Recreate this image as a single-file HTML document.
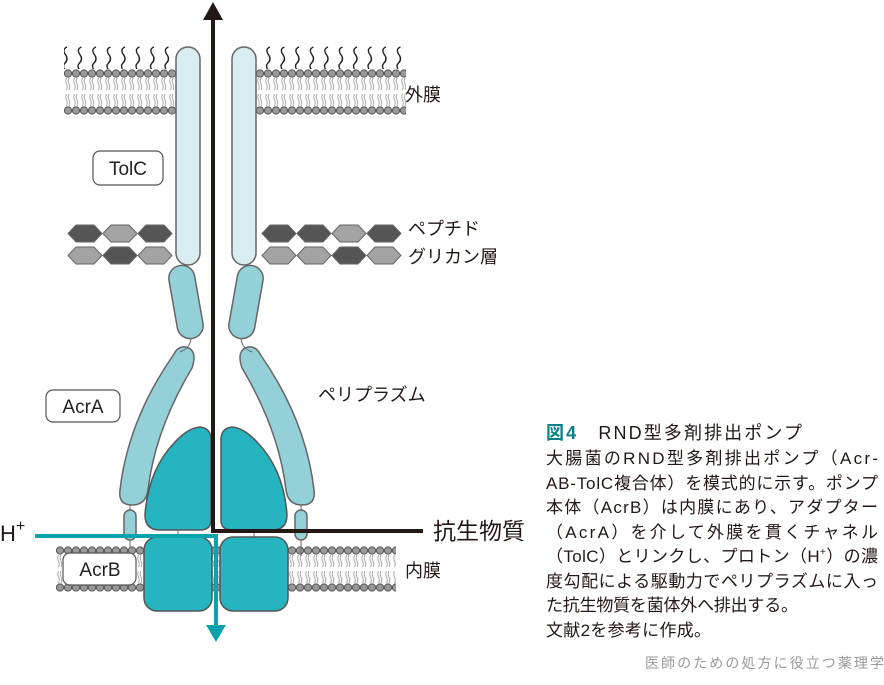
<!DOCTYPE html>
<html><head><meta charset="utf-8"><style>
html,body{margin:0;padding:0;background:#fff;width:884px;height:685px;overflow:hidden}
svg{display:block}
.j{font-family:"Liberation Sans","Noto Sans CJK JP",sans-serif}
</style></head><body>
<svg width="884" height="685" viewBox="0 0 884 685" xmlns="http://www.w3.org/2000/svg">
<defs>
<pattern id="mem1" x="0" y="69" width="8" height="46" patternUnits="userSpaceOnUse">
 <path d="M2.5 9 q-1.5 3 0 6 q1.5 3 0 6 M5 9 q-1.5 3 0 6 q1.5 3 0 6 M2.5 25 q-1.5 3 0 6 q1.5 3 0 6 M5 25 q-1.5 3 0 6 q1.5 3 0 6" fill="none" stroke="#aaa" stroke-width="1"/>
 <circle cx="4" cy="4.5" r="3.6" fill="#999" stroke="#555" stroke-width="1"/>
 <circle cx="4" cy="41.5" r="3.6" fill="#999" stroke="#555" stroke-width="1"/>
</pattern>
<pattern id="mem2" x="0" y="546" width="8" height="46" patternUnits="userSpaceOnUse">
 <path d="M2.5 9 q-1.5 3 0 6 q1.5 3 0 6 M5 9 q-1.5 3 0 6 q1.5 3 0 6 M2.5 25 q-1.5 3 0 6 q1.5 3 0 6 M5 25 q-1.5 3 0 6 q1.5 3 0 6" fill="none" stroke="#aaa" stroke-width="1"/>
 <circle cx="4" cy="4.5" r="3.6" fill="#999" stroke="#555" stroke-width="1"/>
 <circle cx="4" cy="41.5" r="3.6" fill="#999" stroke="#555" stroke-width="1"/>
</pattern>
<pattern id="lps" x="0" y="45" width="14.5" height="26" patternUnits="userSpaceOnUse">
 <path d="M9 2 q-5 2 -2 7 q4 5 0 9 q-3 3 0 7" fill="none" stroke="#222" stroke-width="1.4"/>
</pattern>
</defs>
<!-- outer membrane -->
<rect x="64" y="45" width="114" height="24" fill="url(#lps)"/>
<rect x="256" y="45" width="150" height="24" fill="url(#lps)"/>
<rect x="64" y="69" width="114" height="46" fill="url(#mem1)"/>
<rect x="256" y="69" width="150" height="46" fill="url(#mem1)"/>
<!-- inner membrane -->
<rect x="56" y="546" width="340" height="46" fill="url(#mem2)"/>
<!-- peptidoglycan -->
<g stroke="#666" stroke-width="1">
<g transform="translate(68,225)">
<polygon points="0,8.5 8,0 26,0 34,8.5 26,17 8,17" fill="#555"/>
<polygon transform="translate(35,0)" points="0,8.5 8,0 26,0 34,8.5 26,17 8,17" fill="#a3a3a3"/>
<polygon transform="translate(70,0)" points="0,8.5 8,0 26,0 34,8.5 26,17 8,17" fill="#555"/>
<polygon transform="translate(0,22)" points="0,8.5 8,0 26,0 34,8.5 26,17 8,17" fill="#a3a3a3"/>
<polygon transform="translate(35,22)" points="0,8.5 8,0 26,0 34,8.5 26,17 8,17" fill="#555"/>
<polygon transform="translate(70,22)" points="0,8.5 8,0 26,0 34,8.5 26,17 8,17" fill="#a3a3a3"/>
</g>
<g transform="translate(262,225)">
<polygon points="0,8.5 8,0 26,0 34,8.5 26,17 8,17" fill="#555"/>
<polygon transform="translate(35,0)" points="0,8.5 8,0 26,0 34,8.5 26,17 8,17" fill="#555"/>
<polygon transform="translate(70,0)" points="0,8.5 8,0 26,0 34,8.5 26,17 8,17" fill="#a3a3a3"/>
<polygon transform="translate(105,0)" points="0,8.5 8,0 26,0 34,8.5 26,17 8,17" fill="#555"/>
<polygon transform="translate(0,22)" points="0,8.5 8,0 26,0 34,8.5 26,17 8,17" fill="#a3a3a3"/>
<polygon transform="translate(35,22)" points="0,8.5 8,0 26,0 34,8.5 26,17 8,17" fill="#a3a3a3"/>
<polygon transform="translate(70,22)" points="0,8.5 8,0 26,0 34,8.5 26,17 8,17" fill="#555"/>
<polygon transform="translate(105,22)" points="0,8.5 8,0 26,0 34,8.5 26,17 8,17" fill="#a3a3a3"/>
</g>
</g>
<!-- TolC -->
<g stroke="#666" stroke-width="1.5" fill="#d9eef3">
<rect x="176" y="47" width="24" height="218" rx="12"/>
<rect x="232" y="47" width="24" height="218" rx="12"/>
</g>
<!-- AcrA -->
<g stroke="#666" stroke-width="1.5" fill="#94d0d7">
<rect x="173" y="265" width="26" height="74" rx="13" transform="rotate(-10 186 302)"/>
<rect x="233" y="265" width="26" height="74" rx="13" transform="rotate(10 246 302)"/>
<path d="M174 354 Q128 420 120 490 Q118 505 132 505 Q146 505 148 490 Q155 430 192 368 Q198 350 186 347 Q178 346 174 354Z"/>
<path d="M260 354 Q306 420 314 490 Q316 505 302 505 Q288 505 286 490 Q279 430 242 368 Q236 350 248 347 Q256 346 260 354Z"/>
<rect x="124" y="510" width="12" height="30" rx="6"/>
<rect x="295" y="510" width="12" height="30" rx="6"/>
</g>
<g stroke="#666" stroke-width="1" fill="none">
<path d="M191 339 Q190 348 180 352"/><path d="M241 339 Q242 348 252 352"/>
<path d="M130 505 V510 M130 540 V548 M301 505 V510 M301 540 V556"/>
<path d="M178 530 V537 M254 530 V537"/>
</g>
<!-- AcrB -->
<g stroke="#555" stroke-width="1.5" fill="#26b4c0">
<path d="M200 427 Q211 428 211 440 V520 Q211 530 200 530 H160 Q145 530 145 515 Q148 470 175 442 Q188 428 200 427Z"/>
<path d="M232 427 Q221 428 221 440 V520 Q221 530 232 530 H272 Q287 530 287 515 Q284 470 257 442 Q244 428 232 427Z"/>
<rect x="144" y="537" width="68" height="74" rx="13"/>
<rect x="220" y="537" width="68" height="74" rx="13"/>
</g>
<!-- labels boxes -->
<g stroke="#555" stroke-width="1.2" fill="#fff">
<rect x="93" y="151" width="70" height="34" rx="7"/>
<rect x="46" y="390" width="74" height="32" rx="7"/>
<rect x="63" y="553" width="73" height="32" rx="7"/>
</g>
<g class="j" font-size="19" fill="#222" text-anchor="middle">
<text x="128" y="175">TolC</text>
<text x="83" y="413">AcrA</text>
<text x="100" y="576">AcrB</text>
</g>
<!-- arrows -->
<path d="M213 18 V531 H423" fill="none" stroke="#231815" stroke-width="4"/>
<polygon points="213,2 203,20 223,20" fill="#231815"/>
<path d="M35 536 H216 V628" fill="none" stroke="#0aa3ad" stroke-width="4"/>
<polygon points="216,642 206,625 226,625" fill="#0aa3ad"/>
<!-- text -->
<g class="j" fill="#231815">
<text x="405" y="101" font-size="18">外膜</text>
<text x="408" y="235" font-size="18">ペプチド</text>
<text x="408" y="263" font-size="18">グリカン層</text>
<text x="318" y="401" font-size="18">ペリプラズム</text>
<text x="405" y="577" font-size="18">内膜</text>
<text x="433" y="539" font-size="23">抗生物質</text>
<text x="0" y="541" font-size="22">H<tspan font-size="16" dy="-10">+</tspan></text>
</g>
<g class="j" font-size="17" fill="#231815">
<text x="546" y="439" font-size="18" textLength="256"><tspan fill="#0a7f86" font-weight="bold">図4</tspan>　RND型多剤排出ポンプ</text>
<text x="546" y="464" textLength="332">大腸菌のRND型多剤排出ポンプ（Acr-</text>
<text x="546" y="489" textLength="332">AB-TolC複合体）を模式的に示す。ポンプ</text>
<text x="546" y="513" textLength="332">本体（AcrB）は内膜にあり、アダプター</text>
<text x="546" y="538" textLength="332">（AcrA）を介して外膜を貫くチャネル</text>
<text x="546" y="562" textLength="332">（TolC）とリンクし、プロトン（H<tspan font-size="10" dy="-7">+</tspan><tspan dy="7">）の濃</tspan></text>
<text x="546" y="587" textLength="332">度勾配による駆動力でペリプラズムに入っ</text>
<text x="546" y="611" textLength="252">た抗生物質を菌体外へ排出する。</text>
<text x="546" y="636" textLength="165">文献2を参考に作成。</text>
<text x="645" y="668" font-size="14" fill="#999" textLength="239">医師のための処方に役立つ薬理学</text>
</g>
</svg>
</body></html>
